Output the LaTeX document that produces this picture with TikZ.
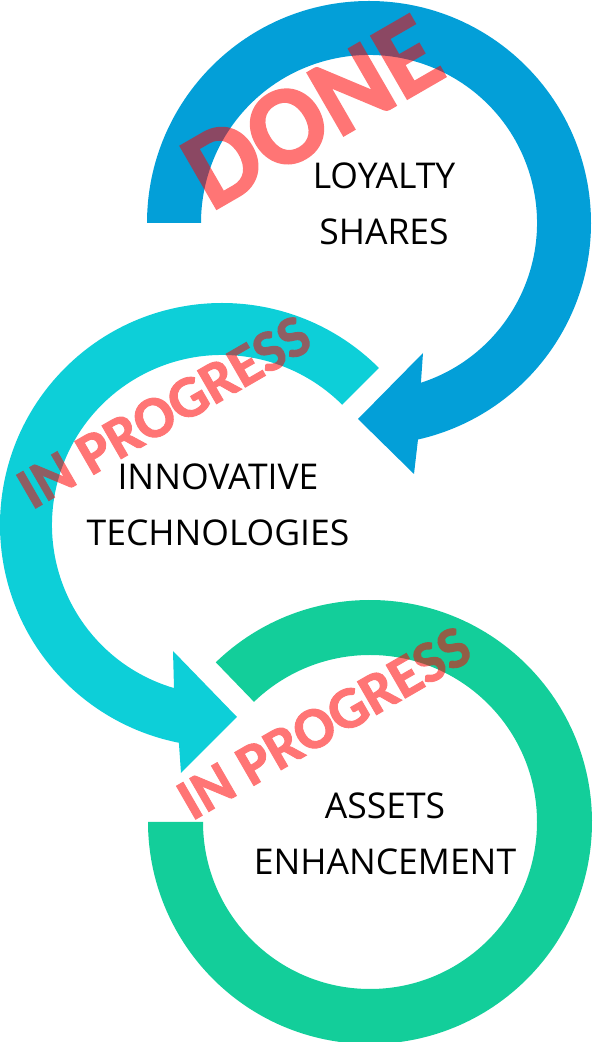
\documentclass[tikz,border=0pt]{standalone}
\usepackage{fontspec}
\usetikzlibrary{calc}
\setmainfont{Open Sans}
\newfontfamily\stampfont{Carlito}[BoldFeatures={FakeBold=1.6}]
\definecolor{arcblue}{RGB}{3,159,216}
\definecolor{arccyan}{RGB}{13,207,216}
\definecolor{arcgreen}{RGB}{19,206,154}
\definecolor{stampred}{RGB}{255,0,0}
\tikzset{
  lbl/.style={font=\fontsize{35.5}{55.5}\selectfont, align=center, text=black, inner sep=0pt, anchor=north},
  stampbox/.style={text=stampred, inner sep=0pt, rotate=30},
}
\begin{document}
\begin{tikzpicture}[x=1pt,y=1pt]
\useasboundingbox (0,0) rectangle (593,1042);
% blue arrow (top)
\coordinate (bc) at (369,819);
\fill[arcblue] ($(bc)+(180:222)$) arc[start angle=180, end angle=-77.25, radius=222]
  -- (414,568) -- (358,623) -- (423,689)
  -- ($(bc)+(-72:168)$) arc[start angle=-72, end angle=180, radius=168] -- cycle;
% cyan arrow (middle)
\coordinate (cc) at (222,517);
\fill[arccyan] ($(cc)+(45:222)$) arc[start angle=45, end angle=258.8, radius=222]
  -- (181,269) -- (237,325) -- (173,391)
  -- ($(cc)+(253.6:170)$) arc[start angle=253.6, end angle=45, radius=170] -- cycle;
% green ring (bottom)
\coordinate (gc) at (370,220);
\fill[arcgreen] ($(gc)+(134:222)$) arc[start angle=134, end angle=-180, radius=222]
  -- ($(gc)+(180:167)$) arc[start angle=-180, end angle=134, radius=167] -- cycle;
% labels
\node[lbl] (loyalty) at (384,879) {LOYALTY\\SHARES};
\node[lbl] (innov) at (218,578) {INNOVATIVE\\TECHNOLOGIES};
\node[lbl] (assets) at (385,249) {ASSETS\\ENHANCEMENT};
% stamps
\begin{scope}[transparency group, opacity=0.54]
\node[stampbox, font=\stampfont\bfseries\fontsize{112}{112}\selectfont] (done) at (312,930) {DONE};
\end{scope}
\begin{scope}[transparency group, opacity=0.54]
\node[stampbox, font=\stampfont\bfseries\fontsize{59}{59}\selectfont] (prog1) at (164,630) {IN PROGRESS};
\end{scope}
\begin{scope}[transparency group, opacity=0.54]
\node[stampbox, font=\stampfont\bfseries\fontsize{59}{59}\selectfont] (prog2) at (324,319) {IN PROGRESS};
\end{scope}
\end{tikzpicture}
\end{document}
